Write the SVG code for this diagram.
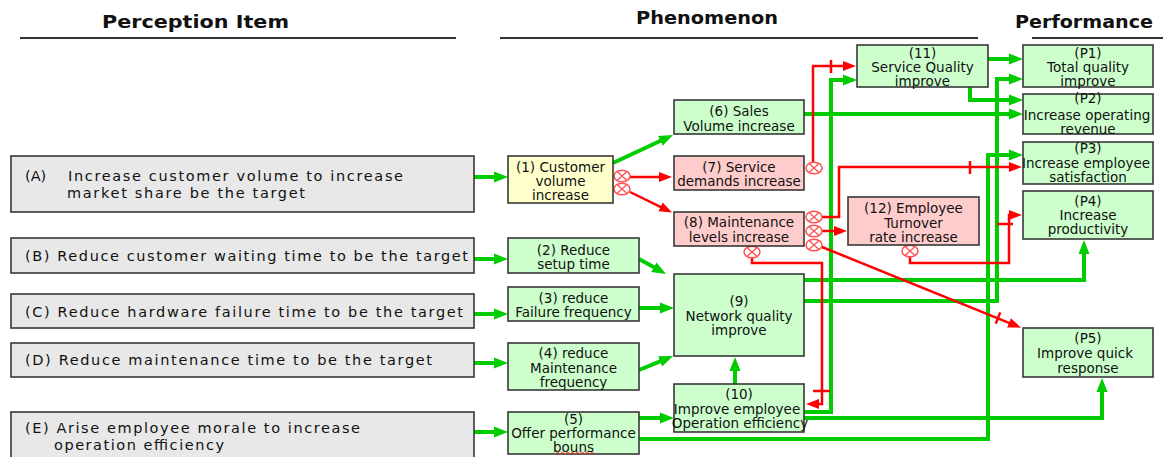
<svg xmlns="http://www.w3.org/2000/svg" xmlns:xlink="http://www.w3.org/1999/xlink" width="1163" height="457" viewBox="0 0 1163 457">
<style>
.hdr{font-family:"DejaVu Sans",Verdana,sans-serif;font-weight:bold;font-size:17px;fill:#111}
.hl{stroke:#333;stroke-width:2;fill:none}
.box{stroke:#383838;stroke-width:1.6}
.gray{fill:#e8e8e8}
.grn{fill:#ccffcc}
.pnk{fill:#ffcccc}
.yel{fill:#ffffcc}
.lt{font-family:"DejaVu Sans",Verdana,sans-serif;font-size:14.5px;fill:#111}
.nt{font-family:"DejaVu Sans",Verdana,sans-serif;font-size:13.5px;fill:#111;text-anchor:middle}
.g{stroke:#00cc00;stroke-width:4;fill:none;marker-end:url(#ag)}
.gn{stroke:#00cc00;stroke-width:4;fill:none}
.r{stroke:#ff0000;stroke-width:2.5;fill:none;marker-end:url(#ar)}
.rn{stroke:#ff0000;stroke-width:2.5;fill:none}
</style>
<defs>
<marker id="ag" markerUnits="userSpaceOnUse" markerWidth="15" markerHeight="12" refX="8" refY="6" orient="auto"><path d="M0,0.5 L14,6 L0,11.5 z" fill="#00cc00"/></marker>
<marker id="ar" markerUnits="userSpaceOnUse" markerWidth="14" markerHeight="11" refX="8" refY="5" orient="auto"><path d="M0,0 L13,5 L0,10 z" fill="#ff0000"/></marker>
<g id="ox"><ellipse cx="0" cy="0" rx="8" ry="5.8" fill="#fff" stroke="#ff5050" stroke-width="1.5"/><path d="M-4.5,-4 L4.5,4 M-4.5,4 L4.5,-4" stroke="#ff5050" stroke-width="1.3"/></g>
</defs>
<rect width="1163" height="457" fill="#fff"/>

<g id="headers">
<text class="hdr" x="102" y="28" textLength="187" lengthAdjust="spacingAndGlyphs">Perception Item</text>
<text class="hdr" x="636" y="24" textLength="142" lengthAdjust="spacingAndGlyphs">Phenomenon</text>
<text class="hdr" x="1015" y="28" textLength="138" lengthAdjust="spacingAndGlyphs">Performance</text>
<path class="hl" d="M20,38 H456 M500,38 H978 M1032,38 H1163"/>
</g>

<g id="connectors">
<path class="g" d="M474,177 H502"/>
<path class="g" d="M474,259 H502"/>
<path class="g" d="M474,314 H502"/>
<path class="g" d="M474,363 H502"/>
<path class="g" d="M474,432 H502"/>
<path class="g" d="M613,163 L667.6,137.5"/>
<path class="g" d="M639,259 L660.8,271.1"/>
<path class="g" d="M639,308 H668"/>
<path class="g" d="M639,370 L667.5,358.3"/>
<path class="g" d="M639,418 H668"/>
<path class="g" d="M735,384 V363"/>
<path class="g" d="M804,114 H1017"/>
<path class="g" d="M988,59 H1017"/>
<path class="g" d="M970,87 V100 H1017"/>
<path class="g" d="M804,412 H831 V80 H851"/>
<path class="g" d="M804,418 H1102 V384"/>
<path class="g" d="M639,439 H988 V155 H1017"/>
<path class="g" d="M804,301 H997 V79 H1017"/>
<path class="g" d="M804,280 H1084 V246"/>

<path class="r" d="M630,177 H667"/>
<path class="r" d="M630,192 L667.6,210.4"/>
<path class="r" d="M813,162 V66 H851"/>
<path class="rn" d="M831,60 V73"/>
<path class="r" d="M822,217 H839 V167 H1017"/>
<path class="rn" d="M970,161 V174"/>
<path class="r" d="M822,231 H842"/>
<path class="r" d="M822,247 L1016.4,325.8"/>
<path class="rn" d="M1000.2,312.4 L995.8,323.6"/>
<path class="r" d="M752,258 V263 H822 V404 H811"/>
<path class="rn" d="M813,391 H830"/>
<path class="r" d="M910,257 V263 H1009 V215 H1017"/>
<path class="rn" d="M997,224 H1013"/>

<use xlink:href="#ox" x="622" y="176"/>
<use xlink:href="#ox" x="622" y="189"/>
<use xlink:href="#ox" x="814" y="168"/>
<use xlink:href="#ox" x="814" y="217"/>
<use xlink:href="#ox" x="814" y="231"/>
<use xlink:href="#ox" x="814" y="245"/>
<use xlink:href="#ox" x="752" y="252"/>
<use xlink:href="#ox" x="910" y="251"/>
</g>

<g id="nodeA"><rect class="box gray" x="11" y="156" width="463" height="56"/>
<text class="lt" x="25" y="181">(A)</text>
<text class="lt" x="68" y="181" textLength="335">Increase customer volume to increase</text>
<text class="lt" x="67" y="198" textLength="238">market share be the target</text></g>
<g id="nodeB"><rect class="box gray" x="11" y="238" width="463" height="35"/>
<text class="lt" x="25" y="261" textLength="443">(B) Reduce customer waiting time to be the target</text></g>
<g id="nodeC"><rect class="box gray" x="11" y="294" width="463" height="34"/>
<text class="lt" x="25" y="317" textLength="438">(C) Reduce hardware failure time to be the target</text></g>
<g id="nodeD"><rect class="box gray" x="11" y="343" width="463" height="34"/>
<text class="lt" x="25" y="365" textLength="407">(D) Reduce maintenance time to be the target</text></g>
<g id="nodeE"><rect class="box gray" x="11" y="412" width="463" height="60"/>
<text class="lt" x="25" y="433" textLength="335">(E) Arise employee morale to increase</text>
<text class="lt" x="54" y="450" textLength="170">operation efficiency</text></g>

<g id="node1"><rect class="box yel" x="508" y="156" width="105" height="47"/>
<text class="nt" x="560.5" y="172">(1) Customer</text><text class="nt" x="560.5" y="186">volume</text><text class="nt" x="560.5" y="200">increase</text></g>
<g id="node2"><rect class="box grn" x="508" y="238" width="131" height="35"/>
<text class="nt" x="573.5" y="255">(2) Reduce</text><text class="nt" x="573.5" y="269">setup time</text></g>
<g id="node3"><rect class="box grn" x="508" y="287" width="131" height="34"/>
<text class="nt" x="573.5" y="303">(3) reduce</text><text class="nt" x="573.5" y="317">Failure frequency</text></g>
<g id="node4"><rect class="box grn" x="508" y="343" width="131" height="47"/>
<text class="nt" x="573.5" y="358">(4) reduce</text><text class="nt" x="573.5" y="373">Maintenance</text><text class="nt" x="573.5" y="387">frequency</text></g>
<g id="node5"><rect class="box grn" x="508" y="412" width="131" height="42"/>
<text class="nt" x="573.5" y="424">(5)</text><text class="nt" x="573.5" y="438">Offer performance</text><text class="nt" x="573.5" y="452">bouns</text>
<path d="M555,454 l2.5,-2 l2.5,2 l2.5,-2 l2.5,2 l2.5,-2 l2.5,2 l2.5,-2 l2.5,2 l2.5,-2 l2.5,2 l2.5,-2 l2.5,2 l2.5,-2 l2.5,2 l2.5,-2 l2.5,2" fill="none" stroke="#ff3030" stroke-width="1"/></g>
<g id="node6"><rect class="box grn" x="674" y="100" width="130" height="34"/>
<text class="nt" x="739" y="116">(6) Sales</text><text class="nt" x="739" y="131">Volume increase</text></g>
<g id="node7"><rect class="box pnk" x="674" y="156" width="130" height="34"/>
<text class="nt" x="739" y="172">(7) Service</text><text class="nt" x="739" y="186">demands increase</text></g>
<g id="node8"><rect class="box pnk" x="674" y="212" width="130" height="34"/>
<text class="nt" x="739" y="227">(8) Maintenance</text><text class="nt" x="739" y="242">levels increase</text></g>
<g id="node9"><rect class="box grn" x="674" y="274" width="130" height="82"/>
<text class="nt" x="739" y="306">(9)</text><text class="nt" x="739" y="321">Network quality</text><text class="nt" x="739" y="335">improve</text></g>
<g id="node10"><rect class="box grn" x="674" y="384" width="130" height="48"/>
<text class="nt" x="739" y="399">(10)</text><text class="nt" x="737" y="414">Improve employee</text><text class="nt" x="740" y="428">Operation efficiency</text></g>
<g id="node11"><rect class="box grn" x="857" y="45" width="131" height="42"/>
<text class="nt" x="922.5" y="58">(11)</text><text class="nt" x="922.5" y="72">Service Quality</text><text class="nt" x="922.5" y="86">improve</text></g>
<g id="node12"><rect class="box pnk" x="848" y="197" width="131" height="48"/>
<text class="nt" x="913.5" y="213">(12) Employee</text><text class="nt" x="913.5" y="228">Turnover</text><text class="nt" x="913.5" y="242">rate increase</text></g>

<g id="nodeP1"><rect class="box grn" x="1023" y="45" width="130" height="42"/>
<text class="nt" x="1088" y="58">(P1)</text><text class="nt" x="1088" y="72">Total quality</text><text class="nt" x="1088" y="86">improve</text></g>
<g id="nodeP2"><rect class="box grn" x="1023" y="94" width="130" height="40"/>
<text class="nt" x="1088" y="103">(P2)</text><text class="nt" x="1087" y="120">Increase operating</text><text class="nt" x="1088" y="134">revenue</text></g>
<g id="nodeP3"><rect class="box grn" x="1023" y="142" width="130" height="42"/>
<text class="nt" x="1088" y="153">(P3)</text><text class="nt" x="1086" y="168">Increase employee</text><text class="nt" x="1088" y="182">satisfaction</text></g>
<g id="nodeP4"><rect class="box grn" x="1023" y="191" width="130" height="48"/>
<text class="nt" x="1088" y="206">(P4)</text><text class="nt" x="1088" y="220">Increase</text><text class="nt" x="1088" y="234">productivity</text></g>
<g id="nodeP5"><rect class="box grn" x="1023" y="328" width="130" height="49"/>
<text class="nt" x="1088" y="343">(P5)</text><text class="nt" x="1085" y="358">Improve quick</text><text class="nt" x="1088" y="373">response</text></g>
</svg>
